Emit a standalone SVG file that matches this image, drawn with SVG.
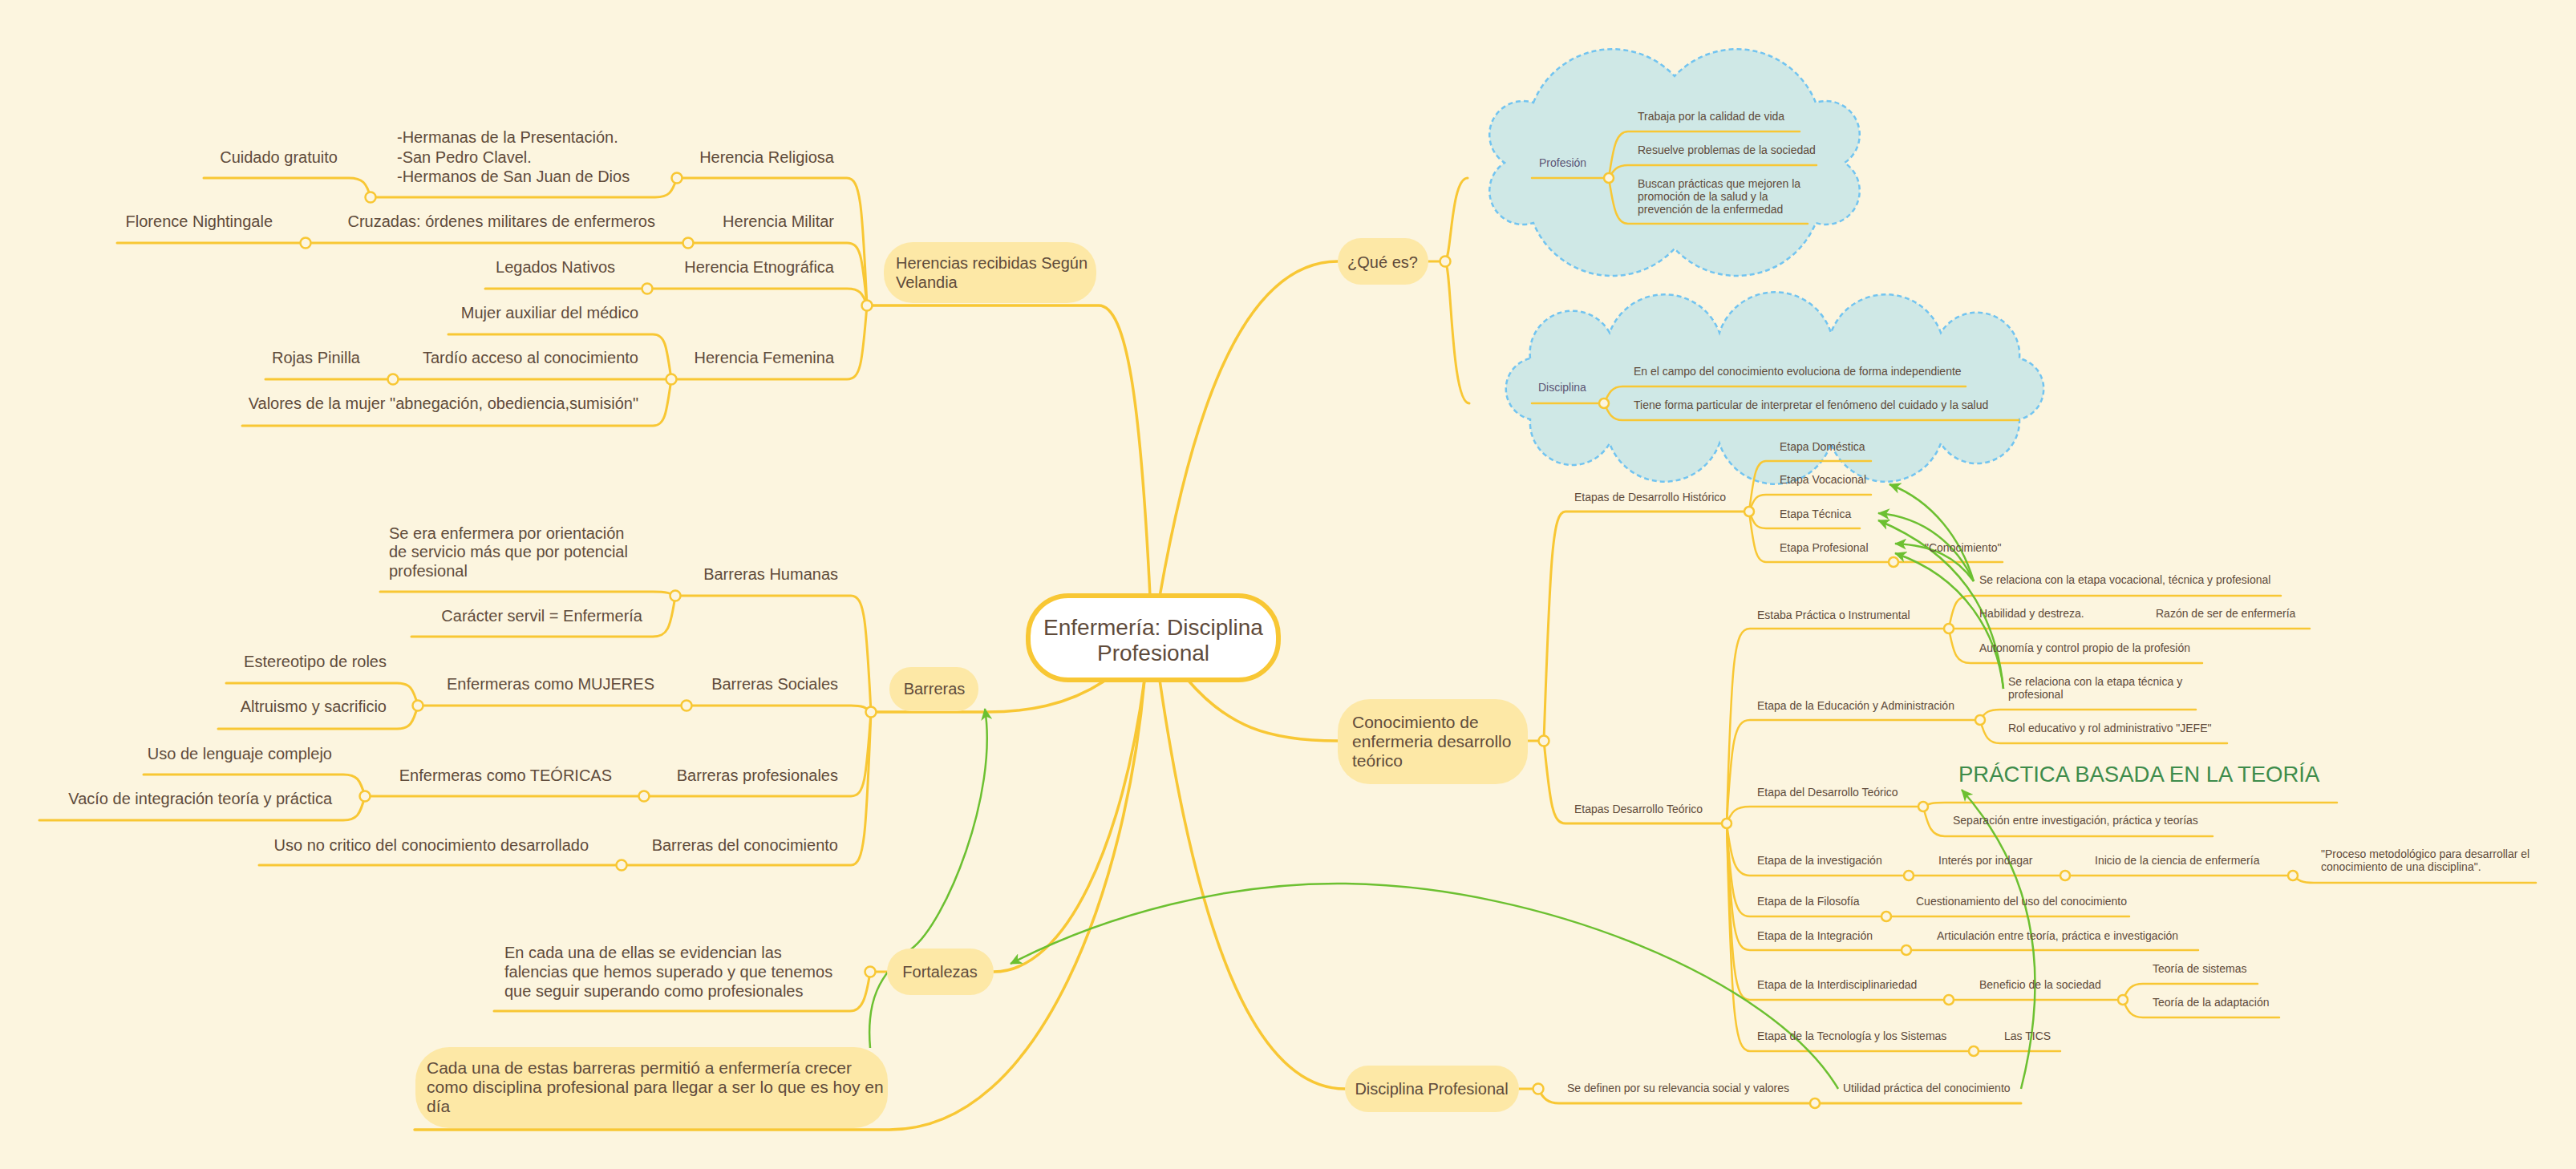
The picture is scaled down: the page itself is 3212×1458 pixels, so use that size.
<svg xmlns="http://www.w3.org/2000/svg" width="3212" height="1458" viewBox="0 0 3212 1458">
<style>
.t{font-family:"Liberation Sans",Arial,sans-serif;fill:#5F4B3B}
.f20{font-size:20px}
.f21{font-size:21px}
.f14{font-size:14px}
.e{text-anchor:end}
.c{text-anchor:middle}
.sl{fill:#5B5575}
.mb{fill:none;stroke:#F8C734;stroke-width:3.5;stroke-linecap:round}
.ln{fill:none;stroke:#F8C734;stroke-width:3;stroke-linecap:round}
.lr{fill:none;stroke:#F8C734;stroke-width:2.5;stroke-linecap:round}
.dot{fill:#FCF5DF;stroke:#F8C734;stroke-width:2.5}
.rel{fill:none;stroke:#6CC031;stroke-width:2.5}
.nd{fill:#FDE8A6}
.cloud{fill:#CFE8E6;stroke:#72C4F0;stroke-width:2.5;stroke-dasharray:6 4}
</style>
<defs>
<marker id="arr" markerUnits="userSpaceOnUse" markerWidth="18" markerHeight="14" refX="14" refY="7" orient="auto">
<path d="M0 0 L15 7 L0 14 L4 7 Z" fill="#6CC031"/>
</marker>
</defs>
<rect width="3212" height="1458" fill="#FCF5DF"/>
<g id="boundaries">
<path class="cloud" d="M1912 128 A106 106 0 0 1 2088 95 A106 106 0 0 1 2264 128 A42 42 0 0 1 2300 203 A42 42 0 0 1 2264 278 A106 106 0 0 1 2088 310 A106 106 0 0 1 1912 278 A42 42 0 0 1 1876 203 A42 42 0 0 1 1912 128 Z"/>
<path class="cloud" d="M1908 447 A53 53 0 0 1 2007 415 A73 73 0 0 1 2144 415 A73 73 0 0 1 2283 415 A73 73 0 0 1 2420 415 A53 53 0 0 1 2518 447 A39 39 0 0 1 2518 523 A53 53 0 0 1 2420 553 A73 73 0 0 1 2283 553 A73 73 0 0 1 2144 553 A73 73 0 0 1 2007 553 A53 53 0 0 1 1908 523 A39 39 0 0 1 1908 447 Z"/>
</g>
<g id="connectors">
<path class="mb" d="M1434 744 C1422 500 1405 381 1370 381 L1081 381"/>
<path class="mb" d="M1446 744 C1480 550 1540 326 1668 326"/>
<path class="mb" d="M1376 850 C1330 880 1280 888 1230 888 L1086 888"/>
<path class="mb" d="M1427 848 C1400 1050 1330 1212 1239 1212"/>
<path class="mb" d="M1427 848 C1405 1100 1300 1409 1109 1409 L517 1409"/>
<path class="mb" d="M1446 848 C1490 1150 1560 1358 1677 1358"/>
<path class="mb" d="M1481 848 C1530 905 1580 924 1668 924"/>
<path class="ln" d="M1781 326 L1802 326 M1802 326 C1810 320 1809 222 1830 222 M1802 326 C1810 332 1809 503 1832 503"/>
<path class="ln" d="M1081 381 C1075 254 1073 222 1056 222 L844 222"/>
<path class="ln" d="M844 222 C838 240 834 246 817 246 L462 246"/>
<path class="ln" d="M462 246 C457 228 452 222 435 222 L254 222"/>
<path class="ln" d="M1081 381 C1075 319 1073 303 1056 303 L146 303"/>
<path class="ln" d="M1081 381 C1076 366 1072 360 1056 360 L605 360"/>
<path class="ln" d="M1081 381 C1075 455 1073 473 1056 473 L331 473"/>
<path class="ln" d="M837 473 C831 430 829 417 814 417 L559 417"/>
<path class="ln" d="M837 473 C831 516 829 531 814 531 L302 531"/>
<path class="ln" d="M1086 888 C1080 772 1078 743 1061 743 L842 743"/>
<path class="ln" d="M842 743 C836 740 832 738 814 738 L474 738"/>
<path class="ln" d="M842 743 C836 784 832 794 814 794 L513 794"/>
<path class="ln" d="M1086 888 C1080 882 1075 880 1061 880 L521 880"/>
<path class="ln" d="M521 880 C515 858 511 852 495 852 L282 852"/>
<path class="ln" d="M521 880 C515 902 511 909 495 909 L272 909"/>
<path class="ln" d="M1086 888 C1080 972 1078 993 1061 993 L455 993"/>
<path class="ln" d="M455 993 C449 972 445 966 428 966 L179 966"/>
<path class="ln" d="M455 993 C449 1016 445 1023 428 1023 L49 1023"/>
<path class="ln" d="M1086 888 C1080 1041 1078 1079 1061 1079 L323 1079"/>
<path class="ln" d="M1106 1212 L1085 1212 M1085 1212 C1080 1245 1075 1261 1060 1261 L616 1261"/>
<path class="ln" d="M1905 924 L1925 924 M1925 924 C1933 690 1936 638 1952 638 L2181 638 M1925 924 C1933 1005 1936 1027 1952 1027 L2153 1027"/>
<path class="lr" d="M2181 638 C2187 590 2190 575 2202 575 L2333 575"/>
<path class="lr" d="M2181 638 C2187 622 2190 617 2202 617 L2333 617"/>
<path class="lr" d="M2181 638 C2187 654 2190 659 2202 659 L2319 659"/>
<path class="lr" d="M2181 638 C2187 686 2190 701 2202 701 L2497 701"/>
<path class="lr" d="M2153 1027 C2159 820 2162 784 2182 784 L2880 784"/>
<path class="lr" d="M2430 784 C2436 752 2440 743 2457 743 L2844 743"/>
<path class="lr" d="M2430 784 C2436 817 2440 827 2457 827 L2746 827"/>
<path class="lr" d="M2153 1027 C2159 925 2162 898 2182 898 L2469 898"/>
<path class="lr" d="M2469 898 C2475 888 2480 885 2494 885 L2738 885"/>
<path class="lr" d="M2469 898 C2475 920 2480 927 2494 927 L2777 927"/>
<path class="lr" d="M2153 1027 C2159 1012 2164 1006 2182 1006 L2398 1006"/>
<path class="lr" d="M2398 1006 C2405 1002 2410 1001 2425 1001 L2914 1001"/>
<path class="lr" d="M2398 1006 C2404 1030 2408 1043 2425 1043 L2759 1043"/>
<path class="lr" d="M2153 1027 C2159 1075 2164 1092 2182 1092 L2859 1092"/>
<path class="lr" d="M2859 1092 C2865 1098 2870 1101 2885 1101 L3162 1101"/>
<path class="lr" d="M2153 1027 C2159 1120 2163 1143 2182 1143 L2655 1143"/>
<path class="lr" d="M2153 1027 C2159 1160 2163 1185 2182 1185 L2741 1185"/>
<path class="lr" d="M2153 1027 C2159 1215 2163 1247 2182 1247 L2647 1247"/>
<path class="lr" d="M2647 1247 C2653 1233 2658 1227 2672 1227 L2815 1227"/>
<path class="lr" d="M2647 1247 C2653 1262 2658 1269 2672 1269 L2842 1269"/>
<path class="lr" d="M2153 1027 C2159 1270 2163 1311 2182 1311 L2569 1311"/>
<path class="ln" d="M1894 1358 L1918 1358 M1918 1358 C1924 1370 1930 1376 1944 1376 L2520 1376"/>
<path class="lr" d="M1910 222 L2006 222 M2006 222 C2012 180 2016 164 2030 164 L2244 164 M2006 222 C2012 212 2016 206 2030 206 L2265 206 M2006 222 C2012 262 2016 279 2030 279 L2254 279"/>
<path class="lr" d="M1910 503 L2000 503 M2000 503 C2006 490 2010 482 2023 482 L2451 482 M2000 503 C2006 516 2010 524 2023 524 L2517 524"/>
<circle class="dot" cx="1802" cy="326" r="6.5"/>
<circle class="dot" cx="1081" cy="381" r="6.5"/>
<circle class="dot" cx="844" cy="222" r="6.5"/>
<circle class="dot" cx="462" cy="246" r="6.5"/>
<circle class="dot" cx="858" cy="303" r="6.5"/>
<circle class="dot" cx="381" cy="303" r="6.5"/>
<circle class="dot" cx="807" cy="360" r="6.5"/>
<circle class="dot" cx="837" cy="473" r="6.5"/>
<circle class="dot" cx="490" cy="473" r="6.5"/>
<circle class="dot" cx="1086" cy="888" r="6.5"/>
<circle class="dot" cx="842" cy="743" r="6.5"/>
<circle class="dot" cx="856" cy="880" r="6.5"/>
<circle class="dot" cx="521" cy="880" r="6.5"/>
<circle class="dot" cx="803" cy="993" r="6.5"/>
<circle class="dot" cx="455" cy="993" r="6.5"/>
<circle class="dot" cx="775" cy="1079" r="6.5"/>
<circle class="dot" cx="1085" cy="1212" r="6.5"/>
<circle class="dot" cx="1925" cy="924" r="6.5"/>
<circle class="dot" cx="2181" cy="638" r="6"/>
<circle class="dot" cx="2153" cy="1027" r="6"/>
<circle class="dot" cx="2361" cy="701" r="6"/>
<circle class="dot" cx="2430" cy="784" r="6"/>
<circle class="dot" cx="2469" cy="898" r="6"/>
<circle class="dot" cx="2398" cy="1006" r="6"/>
<circle class="dot" cx="2380" cy="1092" r="6"/>
<circle class="dot" cx="2575" cy="1092" r="6"/>
<circle class="dot" cx="2859" cy="1092" r="6"/>
<circle class="dot" cx="2352" cy="1143" r="6"/>
<circle class="dot" cx="2377" cy="1185" r="6"/>
<circle class="dot" cx="2430" cy="1247" r="6"/>
<circle class="dot" cx="2647" cy="1247" r="6"/>
<circle class="dot" cx="2461" cy="1311" r="6"/>
<circle class="dot" cx="1918" cy="1358" r="6.5"/>
<circle class="dot" cx="2263" cy="1376" r="6"/>
<circle class="dot" cx="2006" cy="222" r="6"/>
<circle class="dot" cx="2000" cy="503" r="6"/>
</g>
<g id="relationships">
<path class="rel" marker-end="url(#arr)" d="M1085 1307 C1080 1250 1095 1215 1137 1183 S1245 990 1228 884"/>
<path class="rel" marker-end="url(#arr)" d="M2292 1358 C2210 1220 1920 1105 1678 1102 C1533 1100 1380 1140 1260 1202"/>
<path class="rel" marker-end="url(#arr)" d="M2520 1358 C2560 1200 2530 1080 2446 985"/>
<path class="rel" marker-end="url(#arr)" d="M2461 725 C2445 672 2410 625 2356 604"/>
<path class="rel" marker-end="url(#arr)" d="M2461 725 C2440 680 2400 645 2342 640"/>
<path class="rel" marker-end="url(#arr)" d="M2461 725 C2440 695 2410 680 2363 678"/>
<path class="rel" marker-end="url(#arr)" d="M2498 859 C2488 760 2440 690 2342 649"/>
<path class="rel" marker-end="url(#arr)" d="M2498 859 C2490 790 2450 720 2363 690"/>
</g>
<g id="nodes">
<g id="central"><rect x="1282" y="743" width="312" height="105" rx="50" fill="#FFFFFF" stroke="#F8C734" stroke-width="6"/><text class="t c" x="1438" y="792" font-size="28">Enfermería: Disciplina</text><text class="t c" x="1438" y="824" font-size="28">Profesional</text></g>
<g id="herencias"><rect class="nd" x="1102" y="302" width="265" height="76" rx="36"/><text class="t f20" x="1117" y="335">Herencias recibidas Según</text><text class="t f20" x="1117" y="359">Velandia</text></g>
<g id="herencia-religiosa"><text class="t f20 e" x="1040" y="203">Herencia Religiosa</text></g>
<g id="hermanas"><text class="t f20" x="495" y="178">-Hermanas de la Presentación.</text><text class="t f20" x="495" y="203">-San Pedro Clavel.</text><text class="t f20" x="495" y="227">-Hermanos de San Juan de Dios</text></g>
<g id="cuidado-gratuito"><text class="t f20 e" x="421" y="203">Cuidado gratuito</text></g>
<g id="herencia-militar"><text class="t f20 e" x="1040" y="283">Herencia Militar</text></g>
<g id="cruzadas"><text class="t f20 e" x="817" y="283">Cruzadas: órdenes militares de enfermeros</text></g>
<g id="florence"><text class="t f20 e" x="340" y="283">Florence Nightingale</text></g>
<g id="herencia-etnografica"><text class="t f20 e" x="1040" y="340">Herencia Etnográfica</text></g>
<g id="legados"><text class="t f20 e" x="767" y="340">Legados Nativos</text></g>
<g id="herencia-femenina"><text class="t f20 e" x="1040" y="453">Herencia Femenina</text></g>
<g id="mujer-auxiliar"><text class="t f20 e" x="796" y="397">Mujer auxiliar del médico</text></g>
<g id="tardio"><text class="t f20 e" x="796" y="453">Tardío acceso al conocimiento</text></g>
<g id="rojas"><text class="t f20 e" x="449" y="453">Rojas Pinilla</text></g>
<g id="valores"><text class="t f20 e" x="796" y="510">Valores de la mujer "abnegación, obediencia,sumisión"</text></g>
<g id="barreras"><rect class="nd" x="1109" y="832" width="111" height="55" rx="27"/><text class="t f20 c" x="1165" y="866">Barreras</text></g>
<g id="barreras-humanas"><text class="t f20 e" x="1045" y="723">Barreras Humanas</text></g>
<g id="se-era"><text class="t f20" x="485" y="672">Se era enfermera por orientación</text><text class="t f20" x="485" y="695">de servicio más que por potencial</text><text class="t f20" x="485" y="719">profesional</text></g>
<g id="caracter-servil"><text class="t f20 e" x="801" y="775">Carácter servil = Enfermería</text></g>
<g id="barreras-sociales"><text class="t f20 e" x="1045" y="860">Barreras Sociales</text></g>
<g id="enf-mujeres"><text class="t f20 e" x="816" y="860">Enfermeras como MUJERES</text></g>
<g id="estereotipo"><text class="t f20 e" x="482" y="832">Estereotipo de roles</text></g>
<g id="altruismo"><text class="t f20 e" x="482" y="888">Altruismo y sacrificio</text></g>
<g id="barreras-profesionales"><text class="t f20 e" x="1045" y="974">Barreras profesionales</text></g>
<g id="enf-teoricas"><text class="t f20 e" x="763" y="974">Enfermeras como TEÓRICAS</text></g>
<g id="lenguaje"><text class="t f20 e" x="414" y="947">Uso de lenguaje complejo</text></g>
<g id="vacio"><text class="t f20 e" x="414" y="1003">Vacío de integración teoría y práctica</text></g>
<g id="barreras-conocimiento"><text class="t f20 e" x="1045" y="1061">Barreras del conocimiento</text></g>
<g id="uso-no-critico"><text class="t f20 e" x="734" y="1061">Uso no critico del conocimiento desarrollado</text></g>
<g id="fortalezas"><rect class="nd" x="1106" y="1183" width="133" height="58" rx="29"/><text class="t f20 c" x="1172" y="1219">Fortalezas</text></g>
<g id="falencias"><text class="t f20" x="629" y="1195">En cada una de ellas se evidencian las</text><text class="t f20" x="629" y="1219">falencias que hemos superado y que tenemos</text><text class="t f20" x="629" y="1243">que seguir superando como profesionales</text></g>
<g id="cada-una"><rect class="nd" x="518" y="1306" width="589" height="101" rx="42"/><text class="t f21" x="532" y="1339">Cada una de estas barreras permitió a enfermería crecer</text><text class="t f21" x="532" y="1363">como disciplina profesional para llegar a ser lo que es hoy en</text><text class="t f21" x="532" y="1387">día</text></g>
<g id="que-es"><rect class="nd" x="1668" y="297" width="113" height="58" rx="29"/><text class="t f20 c" x="1724" y="334">¿Qué es?</text></g>
<g id="profesion"><text class="t f14 sl" x="1919" y="208">Profesión</text></g>
<g id="trabaja"><text class="t f14" x="2042" y="150">Trabaja por la calidad de vida</text></g>
<g id="resuelve"><text class="t f14" x="2042" y="192">Resuelve problemas de la sociedad</text></g>
<g id="buscan"><text class="t f14" x="2042" y="234">Buscan prácticas que mejoren la</text><text class="t f14" x="2042" y="250">promoción de la salud y la</text><text class="t f14" x="2042" y="266">prevención de la enfermedad</text></g>
<g id="disciplina"><text class="t f14 sl" x="1918" y="488">Disciplina</text></g>
<g id="campo"><text class="t f14" x="2037" y="468">En el campo del conocimiento evoluciona de forma independiente</text></g>
<g id="tiene"><text class="t f14" x="2037" y="510">Tiene forma particular de interpretar el fenómeno del cuidado y la salud</text></g>
<g id="conocimiento"><rect class="nd" x="1668" y="872" width="237" height="106" rx="40"/><text class="t f21" x="1686" y="908">Conocimiento de</text><text class="t f21" x="1686" y="932">enfermeria desarrollo</text><text class="t f21" x="1686" y="956">teórico</text></g>
<g id="etapas-historico"><text class="t f14" x="1963" y="625">Etapas de Desarrollo Histórico</text></g>
<g id="domestica"><text class="t f14" x="2219" y="562">Etapa Doméstica</text></g>
<g id="vocacional"><text class="t f14" x="2219" y="603">Etapa Vocacional</text></g>
<g id="tecnica"><text class="t f14" x="2219" y="646">Etapa Técnica</text></g>
<g id="profesional"><text class="t f14" x="2219" y="688">Etapa Profesional</text></g>
<g id="conocimiento-q"><text class="t f14" x="2400" y="688">"Conocimiento"</text></g>
<g id="etapas-teorico"><text class="t f14" x="1963" y="1014">Etapas Desarrollo Teórico</text></g>
<g id="estaba"><text class="t f14" x="2191" y="772">Estaba Práctica o Instrumental</text></g>
<g id="se-relaciona-1"><text class="t f14" x="2468" y="728">Se relaciona con la etapa vocacional, técnica y profesional</text></g>
<g id="habilidad"><text class="t f14" x="2468" y="770">Habilidad y destreza.</text></g>
<g id="razon"><text class="t f14" x="2688" y="770">Razón de ser de enfermería</text></g>
<g id="autonomia"><text class="t f14" x="2468" y="813">Autonomía y control propio de la profesión</text></g>
<g id="educacion"><text class="t f14" x="2191" y="885">Etapa de la Educación y Administración</text></g>
<g id="se-relaciona-2"><text class="t f14" x="2504" y="855">Se relaciona con la etapa técnica y</text><text class="t f14" x="2504" y="871">profesional</text></g>
<g id="rol"><text class="t f14" x="2504" y="913">Rol educativo y rol administrativo "JEFE"</text></g>
<g id="desarrollo-teorico"><text class="t f14" x="2191" y="993">Etapa del Desarrollo Teórico</text></g>
<g id="practica-basada"><text class="t" x="2442" y="975" font-size="27.5" style="fill:#3E8C4B">PRÁCTICA BASADA EN LA TEORÍA</text></g>
<g id="separacion"><text class="t f14" x="2435" y="1028">Separación entre investigación, práctica y teorías</text></g>
<g id="investigacion"><text class="t f14" x="2191" y="1078">Etapa de la investigación</text></g>
<g id="interes"><text class="t f14" x="2417" y="1078">Interés por indagar</text></g>
<g id="inicio"><text class="t f14" x="2612" y="1078">Inicio de la ciencia de enfermería</text></g>
<g id="proceso"><text class="t f14" x="2894" y="1070">"Proceso metodológico para desarrollar el</text><text class="t f14" x="2894" y="1086">conocimiento de una disciplina".</text></g>
<g id="filosofia"><text class="t f14" x="2191" y="1129">Etapa de la Filosofía</text></g>
<g id="cuestionamiento"><text class="t f14" x="2389" y="1129">Cuestionamiento del uso del conocimiento</text></g>
<g id="integracion"><text class="t f14" x="2191" y="1172">Etapa de la Integración</text></g>
<g id="articulacion"><text class="t f14" x="2415" y="1172">Articulación entre teoría, práctica e investigación</text></g>
<g id="interdisciplinariedad"><text class="t f14" x="2191" y="1233">Etapa de la Interdisciplinariedad</text></g>
<g id="beneficio"><text class="t f14" x="2468" y="1233">Beneficio de la sociedad</text></g>
<g id="teoria-sistemas"><text class="t f14" x="2684" y="1213">Teoría de sistemas</text></g>
<g id="teoria-adaptacion"><text class="t f14" x="2684" y="1255">Teoría de la adaptación</text></g>
<g id="tecnologia"><text class="t f14" x="2191" y="1297">Etapa de la Tecnología y los Sistemas</text></g>
<g id="tics"><text class="t f14" x="2499" y="1297">Las TICS</text></g>
<g id="disciplina-profesional"><rect class="nd" x="1677" y="1329" width="217" height="58" rx="29"/><text class="t f20 c" x="1785" y="1365">Disciplina Profesional</text></g>
<g id="se-definen"><text class="t f14" x="1954" y="1362">Se definen por su relevancia social y valores</text></g>
<g id="utilidad"><text class="t f14" x="2298" y="1362">Utilidad práctica del conocimiento</text></g>
</g>
</svg>
